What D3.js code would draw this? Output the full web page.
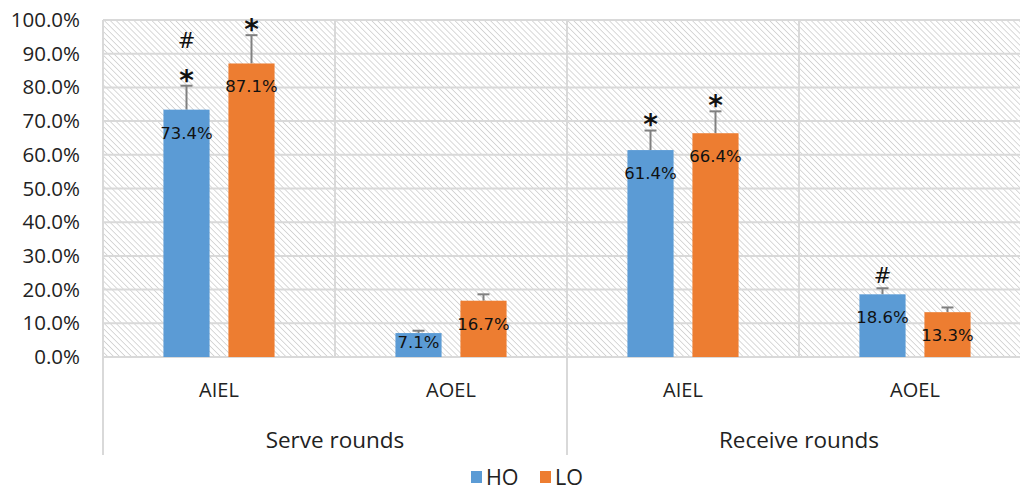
<!DOCTYPE html>
<html>
<head>
<meta charset="utf-8">
<script src="https://cdn.jsdelivr.net/npm/d3@7"></script>
<style>
  html, body { margin: 0; padding: 0; background: #fff; }
  svg { display: block; }
</style>
</head>
<body>
<svg id="chart" width="1020" height="490"></svg>
<script>
// ---------------- data ----------------
const groups = ["Serve rounds", "Receive rounds"];
const categories = ["AIEL", "AOEL"];
const series = ["HO", "LO"];
const colors = ["#5b9bd5", "#ed7d31"];
// values in %, order: Serve AIEL, Serve AOEL, Receive AIEL, Receive AOEL
const hoValues = [73.4, 7.1, 61.4, 18.6];
const loValues = [87.1, 16.7, 66.4, 13.3];
// error bar tops (value + SD)
const hoErrTop = [80.5, 7.8, 67.2, 20.4];
const loErrTop = [95.5, 18.6, 72.9, 14.7];
// significance marks, bottom to top
const hoMarks = [["*", "#"], [], ["*"], ["#"]];
const loMarks = [["*"], [], ["*"], []];
const yTicks = [0, 10, 20, 30, 40, 50, 60, 70, 80, 90, 100];

(function () {
// ---------------- layout ----------------
const svg = d3.select("#chart");
const pLeft = 103, pTop = 20, catW = 232;
const pRight = pLeft + catW * 4, pBottom = 357;

const cells = [];
groups.forEach(g => categories.forEach(c => cells.push({g, c, key: g + "|" + c})));

const x = d3.scaleBand().domain(cells.map(d => d.key)).range([pLeft, pRight]).padding(0);
const xInner = d3.scaleBand().domain(series).range([0, x.bandwidth()]).paddingInner(0.29).paddingOuter(0.93);
const y = d3.scaleLinear().domain([0, 100]).range([pBottom, pTop]);

// hatch pattern
const defs = svg.append("defs");
const pat = defs.append("pattern").attr("id", "hatch").attr("patternUnits", "userSpaceOnUse")
  .attr("width", 4.2).attr("height", 4.2).attr("patternTransform", "rotate(-45)");
pat.append("rect").attr("width", 4.2).attr("height", 4.2).attr("fill", "#ffffff");
pat.append("line").attr("x1", 0).attr("y1", 0).attr("x2", 0).attr("y2", 4.2)
  .attr("stroke", "#d0d0d0").attr("stroke-width", 1.6);

svg.append("rect").attr("x", pLeft).attr("y", pTop).attr("width", pRight - pLeft).attr("height", pBottom - pTop)
  .attr("fill", "url(#hatch)");

// horizontal gridlines
svg.append("g").selectAll("line").data(yTicks).join("line")
  .attr("x1", pLeft).attr("x2", pRight)
  .attr("y1", d => y(d)).attr("y2", d => y(d))
  .attr("stroke", "#d9d9d9").attr("stroke-width", 2);

// vertical separators in plot
svg.append("g").selectAll("line").data(cells.map(d => x(d.key)).concat([pRight])).join("line")
  .attr("x1", d => d).attr("x2", d => d).attr("y1", pTop).attr("y2", pBottom)
  .attr("stroke", "#d9d9d9").attr("stroke-width", 2);

// group separators below axis
const groupEdges = groups.map(g => x(g + "|" + categories[0])).concat([pRight]);
svg.append("g").selectAll("line").data(groupEdges).join("line")
  .attr("x1", d => d).attr("x2", d => d).attr("y1", pBottom).attr("y2", 455)
  .attr("stroke", "#d9d9d9").attr("stroke-width", 2);

// y axis
const yAxis = d3.axisLeft(y).tickValues(yTicks).tickSize(0).tickPadding(23)
  .tickFormat(d => d3.format(".1f")(d) + "%");
const ya = svg.append("g").attr("transform", `translate(${pLeft},0)`).call(yAxis);
ya.select(".domain").remove();
ya.selectAll("text").attr("font-family", "'Open Sans', sans-serif").attr("font-size", 20.5).attr("fill", "#222");

// bars
const barData = [];
cells.forEach((cell, i) => {
  [hoValues, loValues].forEach((vals, s) => {
    barData.push({
      key: cell.key, s, name: series[s], v: vals[i],
      err: (s === 0 ? hoErrTop : loErrTop)[i],
      marks: (s === 0 ? hoMarks : loMarks)[i]
    });
  });
});

const bx = d => x(d.key) + xInner(d.name);
const bw = xInner.bandwidth();

// error bars (behind bars)
const eg = svg.append("g");
eg.selectAll("line.v").data(barData).join("line").attr("class", "v")
  .attr("x1", d => bx(d) + bw / 2).attr("x2", d => bx(d) + bw / 2)
  .attr("y1", d => y(d.v)).attr("y2", d => y(d.err))
  .attr("stroke", "#808080").attr("stroke-width", 2);
eg.selectAll("line.c").data(barData).join("line").attr("class", "c")
  .attr("x1", d => bx(d) + bw / 2 - 6).attr("x2", d => bx(d) + bw / 2 + 6)
  .attr("y1", d => y(d.err)).attr("y2", d => y(d.err))
  .attr("stroke", "#808080").attr("stroke-width", 2);

svg.append("g").selectAll("rect").data(barData).join("rect")
  .attr("x", bx).attr("width", bw)
  .attr("y", d => y(d.v)).attr("height", d => y(0) - y(d.v))
  .attr("fill", d => colors[d.s]);

// value labels
svg.append("g").selectAll("text").data(barData).join("text")
  .attr("x", d => bx(d) + bw / 2)
  .attr("y", d => Math.min(y(d.v) + 23, y(0) - 15))
  .attr("dy", "0.36em")
  .attr("text-anchor", "middle")
  .attr("font-family", "'DejaVu Sans', sans-serif")
  .attr("font-size", 16.5)
  .attr("fill", "#111")
  .text(d => d3.format(".1f")(d.v) + "%");

// significance marks
const markData = [];
barData.forEach(d => {
  d.marks.forEach((m, k) => markData.push({d, m, k}));
});
svg.append("g").selectAll("text").data(markData).join("text")
  .attr("x", o => bx(o.d) + bw / 2)
  .attr("y", o => {
    const c = y(o.d.err) - 13 - o.k * 32;
    return o.m === "*" ? c + 0.6 * 28 : c + 0.36 * 21;
  })
  .attr("text-anchor", "middle")
  .attr("font-family", "'DejaVu Sans', sans-serif")
  .attr("font-weight", o => o.m === "*" ? "bold" : "normal")
  .attr("font-size", o => o.m === "*" ? 28 : 21)
  .attr("fill", "#111")
  .text(o => o.m);

// category labels
svg.append("g").selectAll("text").data(cells).join("text")
  .attr("x", d => x(d.key) + x.bandwidth() / 2).attr("y", 390).attr("dy", "0.36em")
  .attr("text-anchor", "middle")
  .attr("font-family", "'Open Sans', sans-serif").attr("font-size", 20).attr("fill", "#222")
  .text(d => d.c);

// group labels
svg.append("g").selectAll("text").data(groups).join("text")
  .attr("x", g => x(g + "|" + categories[0]) + x.bandwidth()).attr("y", 440).attr("dy", "0.36em")
  .attr("text-anchor", "middle")
  .attr("font-family", "'Open Sans', sans-serif").attr("font-size", 22.5).attr("fill", "#222")
  .text(g => g);

// legend
const lg = svg.append("g");
const legX = [471, 540];
series.forEach((s, i) => {
  lg.append("rect").attr("x", legX[i]).attr("y", 471).attr("width", 11).attr("height", 12).attr("fill", colors[i]);
  lg.append("text").attr("x", legX[i] + 15).attr("y", 477).attr("dy", "0.36em")
    .attr("font-family", "'Open Sans', sans-serif").attr("font-size", 21.5).attr("fill", "#222")
    .text(s);
});
})();
</script>
</body>
</html>
